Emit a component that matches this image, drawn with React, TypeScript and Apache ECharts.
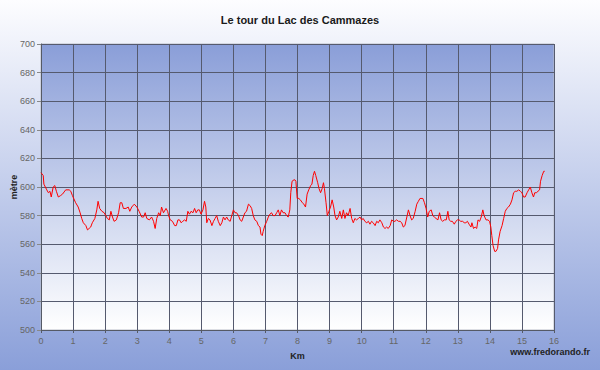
import React, { useEffect, useRef } from "react";
import * as echarts from "echarts";

const titleText = "Le tour du Lac des Cammazes";
const xAxisName = "Km";
const yAxisName = "mètre";
const credit = "www.fredorando.fr";

const distanceKm = [
  0.0, 0.07, 0.09, 0.18, 0.23, 0.28, 0.32, 0.38, 0.43, 0.48, 0.54, 0.61, 0.67, 0.77, 0.88, 0.93, 0.98,
  1.08, 1.16, 1.22, 1.27, 1.32, 1.4, 1.45, 1.5, 1.55, 1.6, 1.68, 1.74, 1.78, 1.83, 1.9, 1.97,
  2.02, 2.07, 2.13, 2.18, 2.23, 2.28, 2.35, 2.42, 2.47, 2.52, 2.57, 2.65, 2.72, 2.77, 2.83, 2.91, 2.99,
  3.06, 3.14, 3.2, 3.25, 3.3, 3.38, 3.45, 3.51, 3.56, 3.61, 3.67, 3.72, 3.76, 3.82, 3.9, 3.95,
  3.98, 4.03, 4.1, 4.17, 4.22, 4.27, 4.32, 4.37, 4.42, 4.48, 4.53, 4.58, 4.63, 4.68, 4.74, 4.79, 4.84, 4.89, 4.94, 4.99,
  5.05, 5.1, 5.14, 5.17, 5.22, 5.27, 5.33, 5.38, 5.43, 5.48, 5.53, 5.59, 5.64, 5.69, 5.74, 5.79, 5.84, 5.9, 5.95,
  6.0, 6.05, 6.1, 6.16, 6.21, 6.26, 6.31, 6.36, 6.41, 6.47, 6.52, 6.57, 6.62, 6.67, 6.73, 6.78, 6.83, 6.86, 6.9, 6.93, 6.98,
  7.04, 7.09, 7.14, 7.19, 7.24, 7.3, 7.35, 7.4, 7.45, 7.5, 7.55, 7.61, 7.66, 7.71, 7.76, 7.79, 7.83, 7.89, 7.92,
  7.95, 7.99, 8.04, 8.09, 8.15, 8.2, 8.25, 8.3, 8.35, 8.41, 8.45, 8.49, 8.53, 8.57, 8.63, 8.67, 8.72, 8.77, 8.81, 8.84, 8.89, 8.93, 8.98,
  9.03, 9.08, 9.13, 9.17, 9.22, 9.27, 9.32, 9.38, 9.43, 9.48, 9.53, 9.58, 9.64, 9.69, 9.74, 9.79, 9.84, 9.9, 9.95,
  10.0, 10.05, 10.1, 10.16, 10.21, 10.26, 10.31, 10.36, 10.42, 10.47, 10.52, 10.57, 10.63, 10.68, 10.73, 10.78, 10.83, 10.89, 10.94, 10.99,
  11.04, 11.09, 11.15, 11.2, 11.25, 11.3, 11.35, 11.41, 11.46, 11.51, 11.56, 11.61, 11.67, 11.72, 11.77, 11.82,
  11.85, 11.91, 11.96, 12.01, 12.06, 12.11, 12.17, 12.22, 12.27, 12.32, 12.38, 12.43, 12.48, 12.53, 12.58, 12.64, 12.69, 12.73, 12.78, 12.83, 12.89, 12.94, 12.99,
  13.04, 13.09, 13.15, 13.2, 13.25, 13.3, 13.35, 13.41, 13.44, 13.49, 13.54, 13.59, 13.63, 13.68, 13.73, 13.78, 13.82, 13.88, 13.94, 13.99,
  14.03, 14.06, 14.1, 14.15, 14.19, 14.24, 14.27, 14.32, 14.38, 14.43, 14.48, 14.53, 14.58, 14.64, 14.69, 14.74, 14.79, 14.84, 14.9, 14.95,
  15.0, 15.05, 15.1, 15.16, 15.21, 15.26, 15.31, 15.36, 15.4, 15.45, 15.5, 15.55, 15.58, 15.63, 15.68, 15.71,
];

const elevationM = [
  610, 608, 602, 598, 596, 597, 593, 600, 601, 597, 593, 594, 595, 598, 598, 597, 594,
  589, 586, 582, 578, 575, 573, 570, 571, 572, 575, 578, 584, 590, 585, 583, 582,
  580, 578, 577, 583, 579, 576, 577, 582, 589, 589, 585, 585, 586, 583, 586, 588, 586,
  583, 579, 579, 582, 578, 577, 579, 576, 571, 578, 582, 580, 586, 582, 585, 583,
  580, 577, 576, 573, 573, 577, 577, 575, 576, 577, 576, 583, 581, 583, 582, 585, 582, 584, 584, 581,
  584, 590, 586, 575, 578, 577, 573, 576, 578, 580, 576, 573, 575, 579, 577, 579, 577, 576, 580,
  584, 582, 582, 580, 577, 576, 579, 582, 583, 588, 587, 585, 580, 577, 576, 573, 572, 567, 566, 569, 573,
  576, 579, 581, 582, 580, 580, 582, 584, 580, 584, 582, 582, 580, 579, 584, 596, 604, 605, 605,
  604, 592, 592, 591, 589, 588, 586, 595, 598, 601, 602, 608, 611, 608, 603, 599, 596, 599, 603, 599, 589, 580, 583,
  586, 591, 586, 580, 577, 579, 583, 578, 584, 578, 582, 580, 585, 578, 575, 578, 577, 578, 579,
  577, 578, 576, 575, 576, 574, 576, 575, 573, 576, 575, 577, 575, 572, 571, 572, 571, 573, 577, 576,
  576, 577, 576, 576, 575, 572, 573, 579, 584, 580, 577, 578, 583, 588, 590, 592,
  592, 592, 589, 585, 579, 583, 584, 580, 579, 578, 577, 582, 577, 576, 577, 577, 583, 577, 576, 576, 574, 576, 577,
  577, 576, 576, 575, 575, 576, 574, 572, 575, 571, 572, 571, 577, 576, 579, 584, 580, 577, 577, 576,
  572, 566, 559, 555, 555, 557, 563, 569, 573, 578, 583, 585, 586, 588, 591, 596, 597, 597, 598, 597,
  596, 593, 593, 596, 598, 600, 596, 593, 596, 596, 597, 598, 604, 608, 611, 611,
];

const xMin = 0;
const xMax = 16;
const xStep = 1;
const yMin = 500;
const yMax = 700;
const yStep = 20;

export default function App() {
  const ref = useRef<HTMLDivElement>(null);

  useEffect(() => {
    if (!ref.current) return;
    const chart = echarts.init(ref.current, null, { renderer: "svg" });
    const font = "'Liberation Sans', Arial, sans-serif";
    const points = distanceKm.map((d, i) => [d, elevationM[i]]);
    chart.setOption({
      animation: false,
      backgroundColor: new echarts.graphic.LinearGradient(0, 0, 0, 1, [
        { offset: 0, color: "#fdfdff" },
        { offset: 1, color: "#8a9fd9" },
      ]),
      title: {
        text: titleText,
        left: "center",
        top: 9,
        textStyle: { fontFamily: font, fontSize: 11, fontWeight: "bold", color: "#1a1a1a" },
      },
      grid: {
        left: 41,
        right: 46,
        top: 44,
        bottom: 40,
        containLabel: false,
        outerBoundsMode: "none",
        show: true,
        backgroundColor: new echarts.graphic.LinearGradient(0, 0, 0, 1, [
          { offset: 0, color: "#8a9ed8" },
          { offset: 1, color: "#ffffff" },
        ]),
        borderColor: "#b8bcc8",
        borderWidth: 1,
      },
      xAxis: {
        type: "value",
        min: xMin,
        max: xMax,
        interval: xStep,
        name: xAxisName,
        nameLocation: "middle",
        nameGap: 21,
        nameMoveOverlap: false,
        nameTextStyle: { fontFamily: font, fontSize: 9, fontWeight: "bold", color: "#222" },
        axisLine: { show: true, lineStyle: { color: "#555a66", width: 1 } },
        axisTick: { show: true, length: 3, lineStyle: { color: "#555a66" } },
        axisLabel: { fontFamily: font, fontSize: 9, color: "#666", margin: 6 },
        splitLine: { show: true, lineStyle: { color: "#555a6e", width: 1 } },
      },
      yAxis: {
        type: "value",
        min: yMin,
        max: yMax,
        interval: yStep,
        name: yAxisName,
        nameLocation: "middle",
        nameGap: 23,
        nameMoveOverlap: false,
        nameRotate: 90,
        nameTextStyle: { fontFamily: font, fontSize: 9, fontWeight: "bold", color: "#222" },
        axisLine: { show: true, lineStyle: { color: "#555a66", width: 1 } },
        axisTick: { show: true, length: 4, lineStyle: { color: "#888" } },
        axisLabel: { fontFamily: font, fontSize: 9, color: "#666", margin: 6 },
        splitLine: { show: true, lineStyle: { color: "#555a6e", width: 1 } },
      },
      graphic: [
        {
          type: "text",
          right: 10,
          top: 347,
          style: {
            text: credit,
            fontFamily: font,
            fontSize: 9,
            fontWeight: "bold",
            fill: "#222",
          },
        },
      ],
      series: [
        {
          type: "line",
          data: points,
          showSymbol: false,
          symbol: "none",
          lineStyle: { color: "#ff0000", width: 1 },
          z: 5,
        },
      ],
    });
    return () => chart.dispose();
  }, []);

  return (
    <div
      ref={ref}
      style={{ position: "fixed", left: 0, top: 0, width: 600, height: 370 }}
    />
  );
}
